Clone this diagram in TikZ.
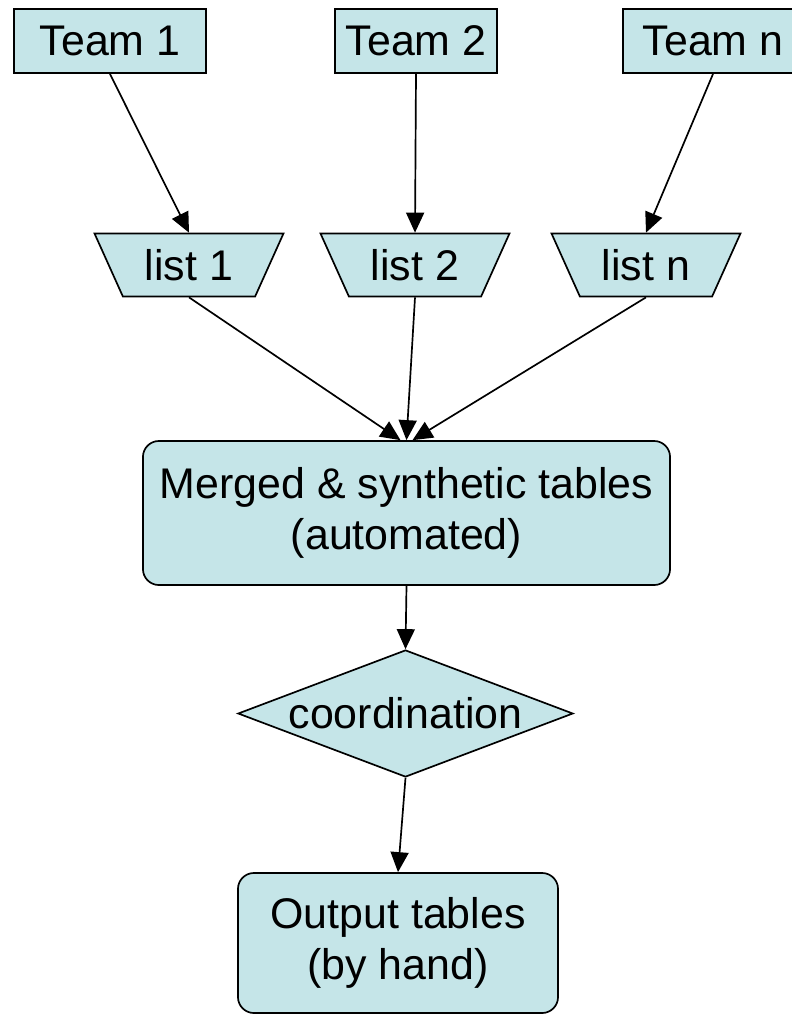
\documentclass[tikz,border=0pt]{standalone}
\usepackage{fontspec}
\setmainfont{Liberation Sans}
\usetikzlibrary{shapes.geometric,arrows.meta}
\definecolor{boxfill}{RGB}{197,229,232}
\begin{document}
\begin{tikzpicture}[
    x=0.025cm, y=-0.025cm,
    txt/.style={font=\fontsize{30.5}{36}\selectfont, align=center, inner sep=0pt},
    team/.style={txt, draw, fill=boxfill, line width=1.4pt, minimum height=1.6cm},
    lst/.style={txt, trapezium, shape border rotate=180, trapezium stretches=true,
      trapezium left angle=59, trapezium right angle=59, draw, fill=boxfill,
      line width=1.2pt, minimum width=4.75cm, minimum height=1.575cm},
    rbox/.style={txt, draw, fill=boxfill, line width=1.2pt, rounded corners=0.4cm},
    dia/.style={txt, diamond, aspect=2.64, draw, fill=boxfill, line width=1.2pt,
      minimum width=8.375cm, minimum height=3.175cm},
    arr/.style={-{Triangle[length=0.5cm, width=0.45cm]}, line width=1.2pt},
  ]
    \useasboundingbox (0,0) rectangle (791,1015);

    % === Teams ===
    \node[team, minimum width=4.8cm] (t1) at (110,41) {Team 1};
    \node[team, minimum width=4.05cm] (t2) at (416,41) {Team 2};
    \node[team, minimum width=4.5cm] (tn) at (713,41) {Team n};

    % === Lists ===
    \node[lst] (l1) at (189,265) {list 1};
    \node[lst] (l2) at (415,265) {list 2};
    \node[lst] (ln) at (646,265) {list n};

    \draw[arr] (t1.south) -- (l1.north);
    \draw[arr] (t2.south) -- (l2.north);
    \draw[arr] (tn.south) -- (ln.north);

    % === Merge ===
    \node[rbox, minimum width=13.175cm, minimum height=3.6cm] (mrg) at (406.5,513)
      {Merged \& synthetic tables\\(automated)};

    \draw[arr] (l1.south) -- ([xshift=-0.15cm]mrg.north);
    \draw[arr] (l2.south) -- (mrg.north);
    \draw[arr] (ln.south) -- ([xshift=0.15cm]mrg.north);

    % === Coordination and output ===
    \node[dia] (crd) at (405.5,713.5) {coordination};
    \node[rbox, minimum width=8cm, minimum height=3.5cm] (out) at (398,943)
      {Output tables\\(by hand)};

    \draw[arr] (mrg.south) -- (crd.north);
    \draw[arr] (crd.south) -- (out.north);
  \end{tikzpicture}
\end{document}
